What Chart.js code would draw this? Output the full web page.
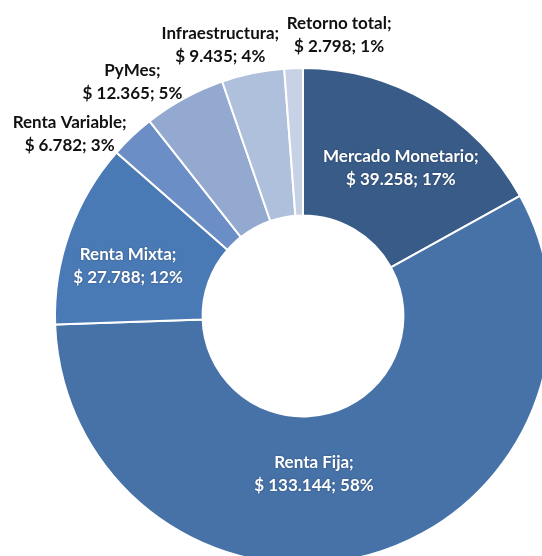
<!DOCTYPE html>
<html>
<head>
<meta charset="utf-8">
<script src="https://cdn.jsdelivr.net/npm/chart.js@4"></script>
<style>
  html, body { margin: 0; padding: 0; background: #fff; overflow: hidden; width: 542px; height: 556px; }
  #wrap { position: absolute; left: 0; top: 0; width: 600px; height: 620px; }
</style>
</head>
<body>
<div id="wrap"><canvas id="fondos" width="600" height="620"></canvas></div>
<script>
const categories = ['Mercado Monetario', 'Renta Fija', 'Renta Mixta', 'Renta Variable', 'PyMes', 'Infraestructura', 'Retorno total'];
const amounts = [39258, 133144, 27788, 6782, 12365, 9435, 2798];

const sliceColors = ['#385B88', '#4672A8', '#4A7AB6', '#6A8EC5', '#94A9D0', '#AFC0DC', '#C8D2E6'];
// label placement: radius as a share of the outer radius, angle shift in degrees from the slice middle
const labelRadius = [0.714, 0.637, 0.734, 1.194, 1.169, 1.141, 1.141];
const labelShift = [3, 11.5, -3.6, -8.5, -7.4, -5.3, 9.5];
const labelInside = [true, true, true, false, false, false, false];

const total = amounts.reduce((a, b) => a + b, 0);

// whole percentages that add up to 100 (largest remainder)
function percentages(values) {
  const raw = values.map(v => v / total * 100);
  const out = raw.map(Math.floor);
  let left = 100 - out.reduce((a, b) => a + b, 0);
  const order = raw.map((v, i) => i).sort((a, b) => (raw[b] - out[b]) - (raw[a] - out[a]));
  for (let k = 0; k < left; k++) out[order[k]] += 1;
  return out;
}
const shares = percentages(amounts);

function formatMoney(v) {
  return '$ ' + String(v).replace(/\B(?=(\d{3})+(?!\d))/g, '.');
}

const sliceLabels = {
  id: 'sliceLabels',
  afterDatasetsDraw(chart) {
    const ctx = chart.ctx;
    const meta = chart.getDatasetMeta(0);
    ctx.save();
    ctx.font = 'bold 17px Lato, "Open Sans", sans-serif';
    ctx.textAlign = 'center';
    ctx.textBaseline = 'middle';
    meta.data.forEach((arc, i) => {
      const { startAngle, endAngle, x, y, outerRadius } = arc.getProps(['startAngle', 'endAngle', 'x', 'y', 'outerRadius'], true);
      const a = (startAngle + endAngle) / 2 + labelShift[i] * Math.PI / 180;
      const r = outerRadius * labelRadius[i];
      const cx = x + Math.cos(a) * r;
      const cy = y + Math.sin(a) * r;
      if (labelInside[i]) {
        ctx.fillStyle = '#ffffff';
        ctx.shadowColor = 'rgba(0,0,0,0.35)';
        ctx.shadowBlur = 2;
      } else {
        ctx.fillStyle = '#111111';
        ctx.shadowColor = 'transparent';
        ctx.shadowBlur = 0;
      }
      ctx.fillText(categories[i] + ';', cx, cy - 11.5);
      ctx.fillText(formatMoney(amounts[i]) + '; ' + shares[i] + '%', cx, cy + 11.5);
    });
    ctx.restore();
  }
};

new Chart(document.getElementById('fondos'), {
  type: 'doughnut',
  data: {
    labels: categories,
    datasets: [{
      data: amounts,
      backgroundColor: sliceColors,
      borderColor: '#ffffff',
      borderWidth: 2
    }]
  },
  options: {
    responsive: false,
    animation: false,
    cutout: '40.5%',
    layout: { padding: { left: 54, top: 67, right: 48, bottom: 55 } },
    plugins: {
      legend: { display: false },
      tooltip: { enabled: false }
    }
  },
  plugins: [sliceLabels]
});
</script>
</body>
</html>
